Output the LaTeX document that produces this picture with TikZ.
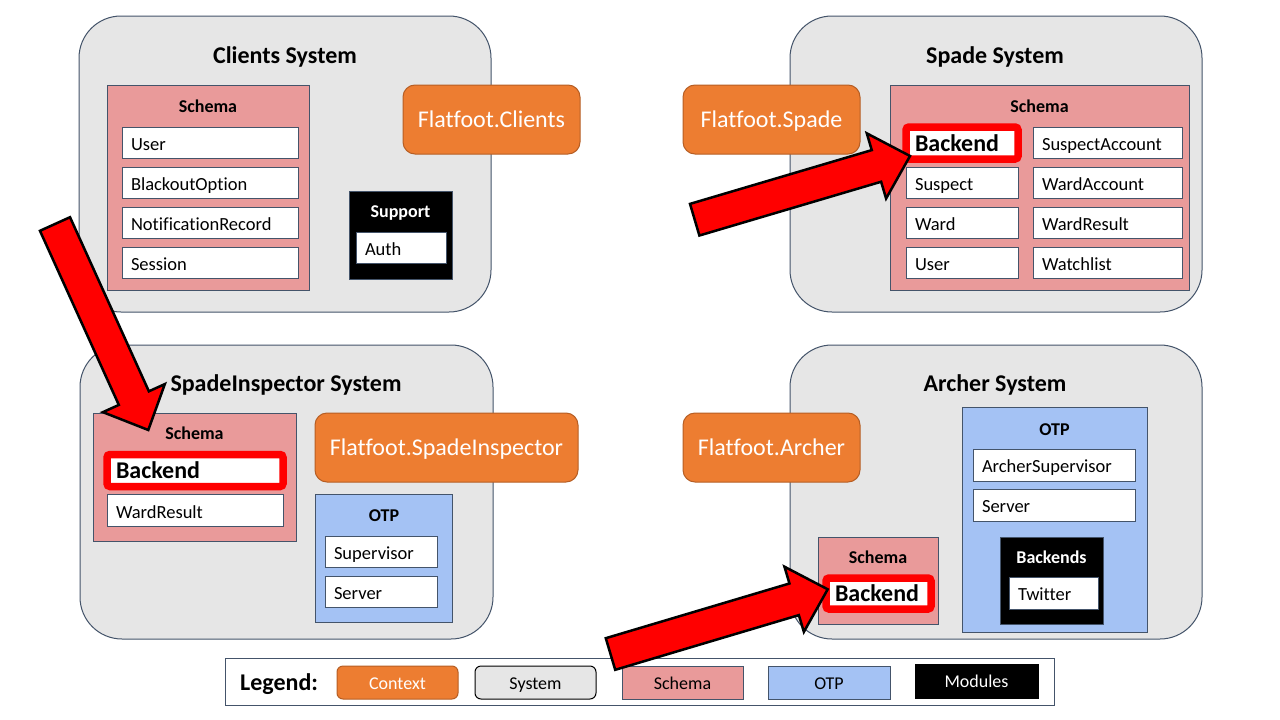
\documentclass[tikz,border=0pt]{standalone}
\usepackage{fontspec}
\setmainfont{Carlito}[Ligatures=NoCommon]
\usetikzlibrary{calc}

\definecolor{sysgray}{HTML}{E6E6E6}
\definecolor{edge}{HTML}{44546A}
\definecolor{ctxorange}{HTML}{ED7D31}
\definecolor{ctxedge}{HTML}{B65E24}
\definecolor{schemapink}{HTML}{E99A9A}
\definecolor{otpblue}{HTML}{A4C2F4}
\definecolor{hotred}{HTML}{FF0000}

% block arrow from tail #1 to tip #2
\newcommand\redarrow[2]{%
  \coordinate (#2-base) at ($(#2)!35pt!(#1)$);
  \draw[bigarrow]
    ($(#1)!16.5pt!90:(#2)$) -- ($(#2-base)!16.5pt!90:(#2)$)
    -- ($(#2-base)!34pt!90:(#2)$) -- (#2)
    -- ($(#2-base)!34pt!-90:(#2)$) -- ($(#2-base)!16.5pt!-90:(#2)$)
    -- ($(#1)!16.5pt!-90:(#2)$) -- cycle;}

\tikzset{
  wh/.style 2 args={minimum width=#1pt, minimum height=#2pt},
  frame/.style={anchor=north west, inner sep=0pt, outer sep=0pt, line width=1pt},
  sysbox/.style={frame, draw=edge, fill=sysgray, rounded corners=42pt},
  schemabox/.style={frame, draw=edge, fill=schemapink},
  otpbox/.style={frame, draw=edge, fill=otpblue},
  modbox/.style={frame, draw=edge, fill=black},
  ctxbox/.style={frame, draw=ctxedge, fill=ctxorange, rounded corners=12pt,
    text=white, font=\fontsize{24}{28}\selectfont, text height=20.5pt, text depth=4pt},
  systitle/.style={anchor=base, inner sep=0pt, font=\fontsize{24}{28}\selectfont\bfseries},
  grouptitle/.style={anchor=base, inner sep=0pt, font=\fontsize{18}{22}\selectfont\bfseries},
  item/.style={anchor=north west, draw=edge, fill=white, line width=1pt,
    minimum height=31pt, inner xsep=9pt, inner ysep=0pt, outer sep=0pt,
    text width=#1, align=left, text height=19pt, text depth=4pt,
    font=\fontsize{18.5}{22}\selectfont},
  backend/.style={item=#1, draw=hotred, line width=7.5pt, rounded corners=3pt,
    minimum height=32pt, text height=20.5pt, text depth=4pt,
    font=\fontsize{24}{28}\selectfont\bfseries},
  legswatch/.style={frame, font=\fontsize{18}{22}\selectfont,
    text height=17.5pt, text depth=4pt},
  bigarrow/.style={draw=black, line width=2.5pt, fill=hotred, line join=miter},
}

\begin{document}
\begin{tikzpicture}[x=1pt, y=-1pt]
\fill[white] (0,0) rectangle (1280,720);
\useasboundingbox (0,0) rectangle (1280,720);

% ---------------- Clients System ----------------
\node[sysbox, wh={412}{296}] (clients) at (79,16) {};
\node[systitle] (clients-t) at (285,63.5) {Clients System};
\node[schemabox, wh={202}{205}] (c-schema) at (107,85) {};
\node[grouptitle] (c-schema-t) at (208,112.5) {Schema};
\node[item=158pt] (c-user) at (122,127) {User};
\node[item=158pt] (c-blackout) at (122,167) {BlackoutOption};
\node[item=158pt] (c-notif) at (122,207) {NotificationRecord};
\node[item=158pt] (c-session) at (122,247) {Session};
\node[ctxbox, wh={177}{69}] (c-ctx) at (403,85) {Flatfoot.Clients};
\node[modbox, wh={103}{88}] (c-support) at (349,191) {};
\node[grouptitle, text=white] (c-support-t) at (400.5,217.5) {Support};
\node[item=72pt] (c-auth) at (356,232) {Auth};

% ---------------- Spade System ----------------
\node[sysbox, wh={412}{296}] (spade) at (790,16) {};
\node[systitle] (spade-t) at (995,63.5) {Spade System};
\node[ctxbox, wh={177}{69}] (s-ctx) at (683,85) {Flatfoot.Spade};
\node[schemabox, wh={299}{205}] (s-schema) at (890,85) {};
\node[grouptitle] (s-schema-t) at (1039.5,112.5) {Schema};
\node[backend=94pt] (s-backend) at (906,127) {Backend};
\node[item=94pt] (s-suspect) at (906,167) {Suspect};
\node[item=94pt] (s-ward) at (906,207) {Ward};
\node[item=94pt] (s-user) at (906,247) {User};
\node[item=131pt] (s-suspacct) at (1033,127) {SuspectAccount};
\node[item=131pt] (s-wardacct) at (1033,167) {WardAccount};
\node[item=131pt] (s-wardres) at (1033,207) {WardResult};
\node[item=131pt] (s-watch) at (1033,247) {Watchlist};

% ---------------- SpadeInspector System ----------------
\node[sysbox, wh={413}{294}] (inspector) at (80,345) {};
\node[systitle] (inspector-t) at (286,391) {SpadeInspector System};
\node[schemabox, wh={203}{128}] (i-schema) at (93,413) {};
\node[grouptitle] (i-schema-t) at (194.5,439.5) {Schema};
\node[backend=158pt] (i-backend) at (107,454.5) {Backend};
\node[item=158pt, minimum height=32pt] (i-wardres) at (107,494.5) {WardResult};
\node[ctxbox, wh={263}{69}] (i-ctx) at (315,413) {Flatfoot.SpadeInspector};
\node[otpbox, wh={137}{128}] (i-otp) at (315.5,494) {};
\node[grouptitle] (i-otp-t) at (384,521.5) {OTP};
\node[item=94pt] (i-sup) at (325,536) {Supervisor};
\node[item=94pt] (i-server) at (325,576) {Server};

% ---------------- Archer System ----------------
\node[sysbox, wh={412}{294}] (archer) at (790,345) {};
\node[systitle] (archer-t) at (995,391) {Archer System};
\node[ctxbox, wh={177}{69}] (a-ctx) at (683,413) {Flatfoot.Archer};
\node[otpbox, wh={185}{225}] (a-otp) at (962,407) {};
\node[grouptitle] (a-otp-t) at (1054.5,435) {OTP};
\node[item=144pt, minimum height=32pt] (a-sup) at (973,449) {ArcherSupervisor};
\node[item=144pt, minimum height=32pt] (a-server) at (973,489) {Server};
\node[modbox, wh={103}{87}] (a-backends) at (1000,537) {};
\node[grouptitle, text=white] (a-backends-t) at (1051.5,563.5) {Backends};
\node[item=71pt, minimum height=32pt] (a-twitter) at (1009,577) {Twitter};
\node[schemabox, wh={120}{87}] (a-schema) at (818,537) {};
\node[grouptitle] (a-schema-t) at (878,563.5) {Schema};
\node[backend=87pt, minimum height=31pt] (a-backend) at (826,578) {Backend};

% ---------------- Legend ----------------
\node[frame, draw=edge, fill=white, wh={829}{47}] (legend) at (225,658) {};
\node[anchor=base west, inner sep=0pt, font=\fontsize{24}{28}\selectfont\bfseries]
  (legend-t) at (240,690) {Legend:};
\node[legswatch, draw=ctxedge, fill=ctxorange, text=white, rounded corners=6pt, wh={121}{33}]
  (leg-ctx) at (337,666) {Context};
\node[legswatch, draw=black, fill=sysgray, rounded corners=6pt, wh={121}{33}]
  (leg-sys) at (475,666) {System};
\node[legswatch, draw=edge, fill=schemapink, wh={121}{33}]
  (leg-schema) at (622,666) {Schema};
\node[legswatch, draw=edge, fill=otpblue, wh={122}{33}]
  (leg-otp) at (768,666) {OTP};
\node[legswatch, draw=black, fill=black, text=white, wh={123}{34}]
  (leg-mod) at (915,664) {Modules};

% ---------------- Arrows onto the Backend modules ----------------
\coordinate (tail-a) at (55,224);
\coordinate (tip-a) at ($(i-schema.north west)+(55.3,17)$);
\redarrow{tail-a}{tip-a}

\coordinate (tail-b) at (694.7,219.7);
\coordinate (tip-b) at ($(s-backend.south west)+(4,-3)$);
\redarrow{tail-b}{tip-b}

\coordinate (tail-c) at (610.5,654);
\coordinate (tip-c) at ($(a-backend.west)+(1.7,-4.2)$);
\redarrow{tail-c}{tip-c}
\end{tikzpicture}
\end{document}
